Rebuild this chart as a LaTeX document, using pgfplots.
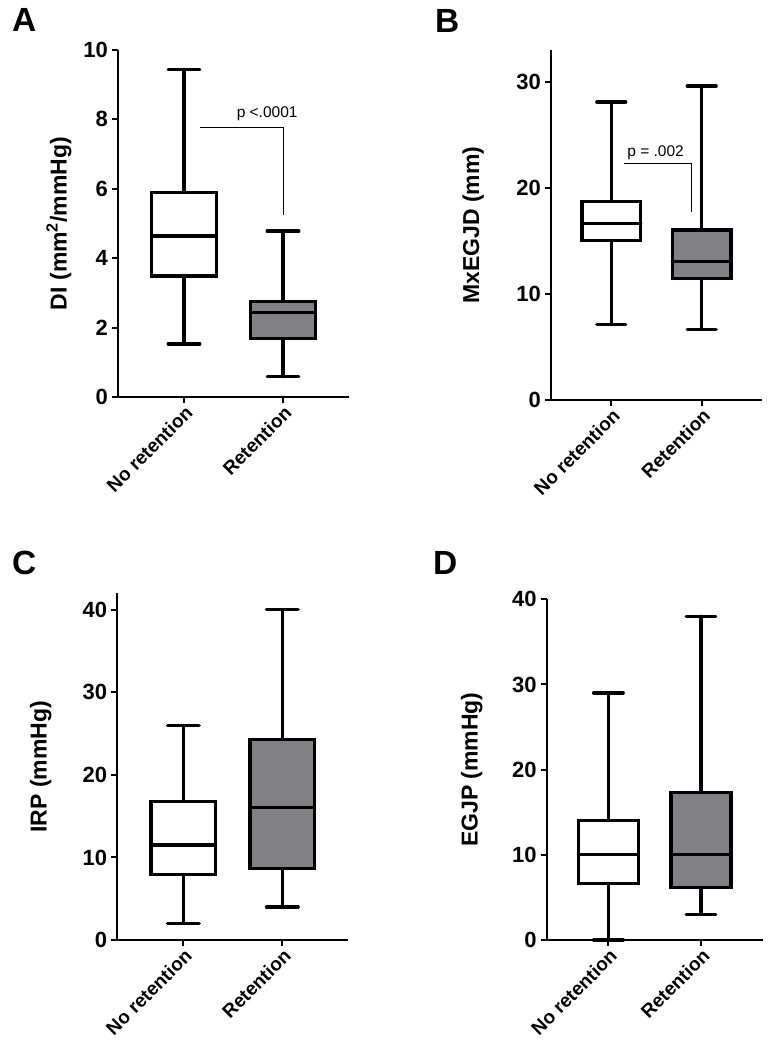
\documentclass[border=0pt]{standalone}
\usepackage{fontspec}
\setmainfont{Liberation Sans}
\usepackage{pgfplots}
\pgfplotsset{compat=1.18}
\usepgfplotslibrary{statistics}
\definecolor{boxgray}{RGB}{128,128,133}
\tikzset{ptxt/.style={font=\fontsize{15.5}{16}\selectfont, anchor=base, inner sep=0pt}}
\pgfplotsset{
  panel/.style={
    scale only axis,
    axis x line*=bottom, axis y line*=left,
    axis line style={line width=2pt, black},
    tick style={line width=2pt, black},
    major tick length=6pt,
    tick align=outside,
    xmin=0.333, xmax=2.667,
    xtick={1,2}, xticklabels={No retention, Retention},
    x tick label style={rotate=45, anchor=north east, font=\bfseries\fontsize{19}{19}\selectfont, inner sep=1pt},
    y tick label style={font=\bfseries\fontsize{22}{22}\selectfont, inner sep=4pt},
    /pgf/number format/assume math mode=true,
    ymin=0,
    every axis y label/.style={rotate=90, anchor=south, inner sep=0pt, font=\bfseries\fontsize{23}{23}\selectfont},
    clip=false,
    boxplot/draw direction=y,
    boxplot/box extend=0.65,
    boxplot/whisker extend=0.32,
  },
  bx/.style={draw=black, line width=3.3pt, line cap=round},
  br/.style={black, line width=1pt, mark=none},
}
\begin{document}
\begin{tikzpicture}
\useasboundingbox (0,0) rectangle (772pt,-1050pt);
\node[anchor=base west, font=\bfseries\fontsize{33.5}{34}\selectfont, inner sep=0pt] at (12pt,-31pt) {A};
\node[anchor=base west, font=\bfseries\fontsize{33.5}{34}\selectfont, inner sep=0pt] at (435pt,-32pt) {B};
\node[anchor=base west, font=\bfseries\fontsize{33.5}{34}\selectfont, inner sep=0pt] at (12pt,-574pt) {C};
\node[anchor=base west, font=\bfseries\fontsize{33.5}{34}\selectfont, inner sep=0pt] at (433pt,-574pt) {D};

% Panel A
\begin{axis}[panel, at={(118pt,-397pt)}, anchor=south west, width=231pt, height=347pt,
  ymax=10, ytick={0,2,...,10}, ylabel={DI (mm\textsuperscript{2}/mmHg)},
  ylabel style={at={(axis description cs:-0.2,0.5)}}]
\addplot[bx, fill=white, boxplot prepared={draw position=1, lower whisker=1.53, lower quartile=3.49, median=4.64, upper quartile=5.9, upper whisker=9.44}] coordinates {};
\addplot[bx, fill=boxgray, boxplot prepared={draw position=2, lower whisker=0.59, lower quartile=1.69, median=2.43, upper quartile=2.75, upper whisker=4.78}] coordinates {};
\addplot[br] coordinates {(1.16,7.78) (2.01,7.78) (2.01,5.24)};
\node[ptxt] at (axis cs:1.84,8.06) {p <.0001};
\end{axis}

% Panel B
\begin{axis}[panel, at={(551pt,-400pt)}, anchor=south west, width=211pt, height=350pt,
  ymax=33, ytick={0,10,20,30}, ylabel={MxEGJD (mm)},
  ylabel style={at={(axis description cs:-0.3175,0.5)}}]
\addplot[bx, fill=white, boxplot prepared={draw position=1, lower whisker=7.13, lower quartile=15.02, median=16.62, upper quartile=18.73, upper whisker=28.1}] coordinates {};
\addplot[bx, fill=boxgray, boxplot prepared={draw position=2, lower whisker=6.66, lower quartile=11.47, median=13.04, upper quartile=16.02, upper whisker=29.6}] coordinates {};
\addplot[br] coordinates {(1.14,22.3) (1.885,22.3) (1.885,17.68)};
\node[ptxt] at (axis cs:1.49,22.93) {p = .002};
\end{axis}

% Panel C
\begin{axis}[panel, at={(117.3pt,-940pt)}, anchor=south west, width=231pt, height=346.7pt,
  ymax=42, ytick={0,10,...,40}, ylabel={IRP (mmHg)},
  ylabel style={at={(axis description cs:-0.284,0.5)}}]
\addplot[bx, fill=white, boxplot prepared={draw position=1, lower whisker=2, lower quartile=7.96, median=11.5, upper quartile=16.77, upper whisker=26}] coordinates {};
\addplot[bx, fill=boxgray, boxplot prepared={draw position=2, lower whisker=4, lower quartile=8.69, median=16.08, upper quartile=24.3, upper whisker=40}] coordinates {};
\end{axis}

% Panel D
\begin{axis}[panel, at={(546.7pt,-940pt)}, anchor=south west, width=216pt, height=340.7pt,
  ymax=40, ytick={0,10,...,40}, ylabel={EGJP (mmHg)},
  ylabel style={at={(axis description cs:-0.296,0.5)}}]
\addplot[bx, fill=white, boxplot prepared={draw position=1, lower whisker=0, lower quartile=6.65, median=10.05, upper quartile=14.0, upper whisker=29}] coordinates {};
\addplot[bx, fill=boxgray, boxplot prepared={draw position=2, lower whisker=3, lower quartile=6.19, median=10.05, upper quartile=17.29, upper whisker=38}] coordinates {};
\end{axis}
\end{tikzpicture}
\end{document}
